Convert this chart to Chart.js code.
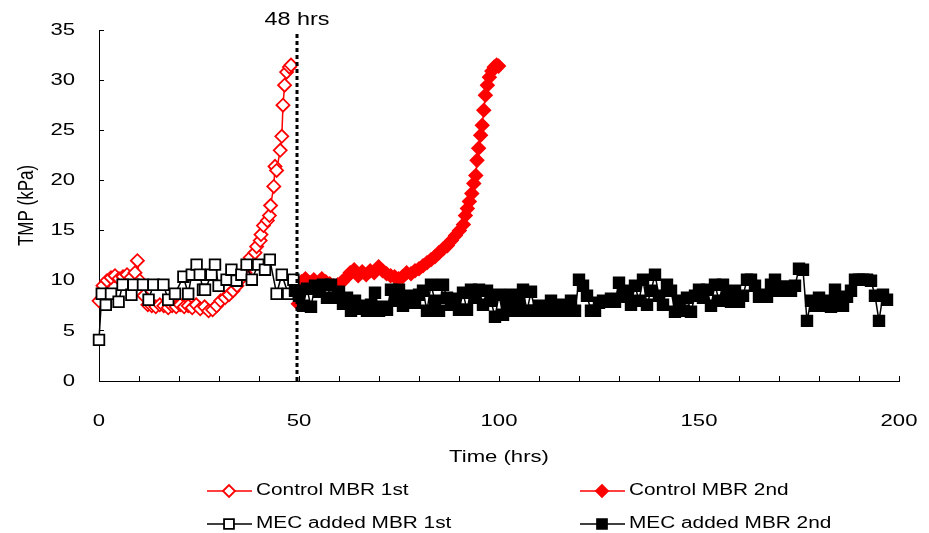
<!DOCTYPE html>
<html>
<head>
<meta charset="utf-8">
<script src="https://cdn.jsdelivr.net/npm/chart.js@4.4.1/dist/chart.umd.min.js"></script>
<style>
  html, body { margin: 0; padding: 0; background: #fff; }
  #wrap { width: 929px; height: 533px; }
</style>
</head>
<body>
<div id="wrap"><canvas id="tmpChart" width="929" height="533"></canvas></div>
<script>
// ======================
// Data
// ======================
const ctrl1Time = [0,1,2,3,4,5,6,7,8,9, 9.6,10.2,11.2,12.2,13.2,14.2,15.2,16.2,17.3,18.3,
  19.3,20.3,21.3,22.3,23.3,24.3,25.3,26.4,27.4,28.4, 29.4,30.4,31.5,32.5,33.5,34.5,35.5,36.5,37.3,37.8,
  39,39.4,40.3,40.5,41.1,42.1,42.6,42.9,43.7,44, 44.4,45.3,45.7,46,46.4,46.9,47.6,48];
const ctrl1Tmp = [8,9.5,10,10.3,10.5,10.2,10.4,10.6,10.3,10.8, 12,10,8.5,7.6,7.5,7.4,7.6,7.5,7.3,7.5,
  7.4,7.6,7.4,7.5,7.3,7.6,7.2,7.4,7.0,7.1, 7.5,8.0,8.3,8.6,9.0,9.5,10.2,10.8,11.5,12.3,
  12.8,13.4,14.0,14.6,15.5,16.0,16.5,17.5,19.4,21.4, 21.0,23.0,24.4,27.5,29.5,30.8,31.3,31.5];

const ctrl2Time = [49.8,50.6,51.6,52.7,53.7,54.7,55.7,56.7,57.7,58.7, 59.7,60.8,61.8,62.8,63.8,64.8,65.8,66.8,67.8,68.8,
  69.9,70.9,71.9,72.9,73.9,74.9,75.9,76.9,78,79, 80,81,82,83,84,85,86.1,87.1,88.1,89.1,
  90.1,91.1,91.6,92.1,92.6,93.2,93.7,94.2,94.5,94.9, 95.4,95.8,96.2,96.6,97.1,97.6,98.2,98.8,99.4,99.9];
const ctrl2Tmp = [7.7,9.9,10.2,9.8,10.1,9.7,10.2,9.9,9.7,9.5, 9.6,9.9,10.3,10.8,11.1,10.5,10.9,10.6,11.0,10.8,
  11.4,11.0,10.7,10.5,10.4,10.2,10.4,10.8,10.7,11.0, 11.2,11.5,11.8,12.1,12.4,12.8,13.2,13.5,14.0,14.5,
  15.0,15.6,16.5,17.2,17.9,18.7,19.7,20.5,22.0,23.2, 24.5,25.5,27.0,28.5,29.5,30.3,30.9,31.3,31.5,31.4];

const mec1Time = [0,0.7,1.7,3,4.9,5.9,8.1,8.6,11,12.4, 13.6,16.1,17.3,19,21.1,22.3,23.2,24.4,25.2,26,
  26.5,28.1,29,29.9,31.9,33.1,34.4,35.6,36.9,38.2, 39.8,41.5,42.7,44.4,45.7,47.3,48.6];
const mec1Tmp = [4.1,8.7,7.6,8.7,7.9,9.6,8.6,9.6,9.6,8.1, 9.6,9.6,8.1,8.7,10.4,8.7,10.6,11.6,10.6,9.1,
  9.1,10.6,11.6,9.5,10.1,11.1,10.0,10.6,11.6,10.1, 11.6,11.1,12.1,8.7,10.6,8.7,10.1];

const mec2Time = [49,50,51,52,53,54,55,56,57,58, 59,60,61,62,63,64,65,66,67,68,
  69,70,71,72,73,74,75,76,77,78, 79,80,81,82,83,84,85,86,87,88,
  89,90,91,92,93,94,95,96,97,98, 99,100,101,102,103,104,105,106,107,108,
  109,110,111,112,113,114,115,116,117,118,119,
  120,121,122,123,124,125,126,127,128,129, 130,131,132,133,134,135,136,137,138,139,
  140,141,142,143,144,145,146,147,148,149, 150,151,152,153,154,155,156,157,158,159,
  160,161,162,163,164,165,166,167,168,169,170,
  171,172,173,174,175,176,177,178,179,180, 181,182,183,184,185,186,187,188,189,190,
  191,192,193,194,195,196,197];
const mec2Tmp = [9.0,8.5,7.5,9.2,7.4,9.5,8.9,9.6,8.3,9.6, 8.3,8.9,7.7,8.3,7.0,8.0,7.2,7.5,7.0,7.6,
  8.8,7.0,7.4,7.1,9.1,8.0,9.1,7.5,8.2,8.5, 7.8,8.6,9.0,7.0,9.6,8.0,7.0,9.6,8.3,7.6,
  8.2,7.1,8.8,7.1,9.1,8.3,9.1,7.6,9.0,8.0, 6.4,8.6,6.6,7.5,8.6,7.0,8.0,9.1,7.0,8.9,
  7.0,7.5,7.0,7.0,8.0,7.2,7.0,7.6,7.0,8.0,7.0,
  10.1,9.5,8.5,7.0,7.0,7.8,8.0,7.9,8.2,7.9, 9.8,9.0,8.4,7.6,9.5,8.0,10.1,7.6,9.0,10.6,
  8.5,7.6,9.6,9.0,6.9,8.0,7.0,8.3,6.9,8.5, 9.1,8.3,9.1,7.5,9.6,8.0,9.6,8.5,7.9,9.0,
  7.9,8.5,10.1,10.1,9.5,8.4,8.6,8.4,9.6,10.1,9.0,
  9.4,9.4,9.0,9.5,11.2,11.1,6.0,8.0,7.5,8.3, 7.5,8.0,7.4,9.1,8.0,7.5,8.4,9.0,10.1,10.1,
  10.1,10.1,10.0,8.5,6.0,8.6,8.1];

const cutTime = 49.5;       // where the dotted marker sits
const cutLabel = "48 hrs";

// ======================
// Look
// ======================
const RED = "#ff0000";
const BLACK = "#000000";
const FONT = "'Liberation Sans', Arial, sans-serif";
const STRETCH = 1.3; // the source text is drawn wide

const canvas = document.getElementById("tmpChart");
const ctx = canvas.getContext("2d");

// widen every text draw horizontally (screen x), like the original
const rawFillText = ctx.fillText;
ctx.fillText = function (text, x, y) {
  const m = this.getTransform();
  this.save();
  this.translate(x, y);
  if (Math.abs(m.b) > 0.5) this.scale(1, STRETCH);
  else this.scale(STRETCH, 1);
  rawFillText.call(this, text, 0, 0);
  this.restore();
};

const pts = (xs, ys) => xs.map((x, i) => ({ x: x, y: ys[i] }));

const series = [
  { label: "Control MBR 1st", color: RED, style: "rectRot", radius: 6.5, fill: "#ffffff" },
  { label: "Control MBR 2nd", color: RED, style: "rectRot", radius: 6.5, fill: RED },
  { label: "MEC added MBR 1st", color: BLACK, style: "rect", radius: 7.5, fill: "#ffffff" },
  { label: "MEC added MBR 2nd", color: BLACK, style: "rect", radius: 7.5, fill: BLACK },
];
const seriesData = [pts(ctrl1Time, ctrl1Tmp), pts(ctrl2Time, ctrl2Tmp), pts(mec1Time, mec1Tmp), pts(mec2Time, mec2Tmp)];

// ======================
// Plugins: dotted marker + 2x2 legend
// ======================
const cutLine = {
  id: "cutLine",
  afterDatasetsDraw(chart) {
    const c = chart.ctx;
    const area = chart.chartArea;
    const x = chart.scales.x.getPixelForValue(cutTime);
    c.save();
    c.strokeStyle = BLACK;
    c.lineWidth = 3;
    c.setLineDash([4, 3]);
    c.beginPath();
    c.moveTo(x, area.top + 4);
    c.lineTo(x, area.bottom);
    c.stroke();
    c.setLineDash([]);
    c.fillStyle = BLACK;
    c.font = "18px " + FONT;
    c.textAlign = "center";
    c.textBaseline = "middle";
    c.fillText(cutLabel, x, 20);
    c.restore();
  },
};

const gridLegend = {
  id: "gridLegend",
  afterDraw(chart) {
    const c = chart.ctx;
    const cols = [207, 580];
    const rows = [491, 524];
    series.forEach((s, i) => {
      const x = cols[i % 2];
      const y = rows[Math.floor(i / 2)];
      c.save();
      c.strokeStyle = s.color;
      c.lineWidth = 1.5;
      c.beginPath();
      c.moveTo(x, y);
      c.lineTo(x + 45, y);
      c.stroke();
      c.fillStyle = s.fill;
      c.lineWidth = 1.8;
      Chart.helpers.drawPoint(c, { pointStyle: s.style, radius: s.radius - 0.5, borderWidth: 1.8, rotation: 0 }, x + 22, y);
      c.fillStyle = BLACK;
      c.font = "16px " + FONT;
      c.textAlign = "left";
      c.textBaseline = "middle";
      c.fillText(s.label, x + 49, y);
      c.restore();
    });
  },
};

// ======================
// Chart
// ======================
new Chart(ctx, {
  type: "scatter",
  data: {
    datasets: series.map((s, i) => ({
      label: s.label,
      data: seriesData[i],
      showLine: true,
      borderColor: s.color,
      borderWidth: 1.5,
      pointStyle: s.style,
      pointRadius: s.radius,
      pointBackgroundColor: s.fill,
      pointBorderColor: s.color,
      pointBorderWidth: 1.8,
      order: 4 - i,
      clip: false,
    })),
  },
  options: {
    responsive: false,
    animation: false,
    layout: { padding: { top: 30, right: 30, bottom: 62, left: 0 } },
    plugins: { legend: { display: false }, tooltip: { enabled: false } },
    scales: {
      x: {
        type: "linear",
        min: 0,
        max: 200,
        afterFit: (s) => { s.height = 90; s.paddingLeft = 0; s.paddingRight = 0; },
        ticks: {
          stepSize: 10,
          autoSkip: false,
          maxRotation: 0,
          padding: 35,
          color: BLACK,
          font: { family: FONT, size: 17 },
          callback: (v) => (v % 50 === 0 ? v : ""),
        },
        grid: { drawOnChartArea: false, tickLength: -5, color: BLACK },
        border: { color: BLACK, width: 1 },
        title: { display: true, text: "Time (hrs)", color: BLACK, font: { family: FONT, size: 17 }, padding: 3 },
      },
      y: {
        min: 0,
        max: 35,
        afterFit: (s) => { s.width = 99; s.paddingTop = 0; s.paddingBottom = 0; },
        ticks: { stepSize: 5, padding: 29, color: BLACK, font: { family: FONT, size: 17 } },
        grid: { drawOnChartArea: false, tickLength: -5, color: BLACK },
        border: { color: BLACK, width: 1 },
        title: { display: true, text: "TMP (kPa)", color: BLACK, font: { family: FONT, size: 17 }, padding: 17 },
      },
    },
  },
  plugins: [cutLine, gridLegend],
});
</script>
</body>
</html>
